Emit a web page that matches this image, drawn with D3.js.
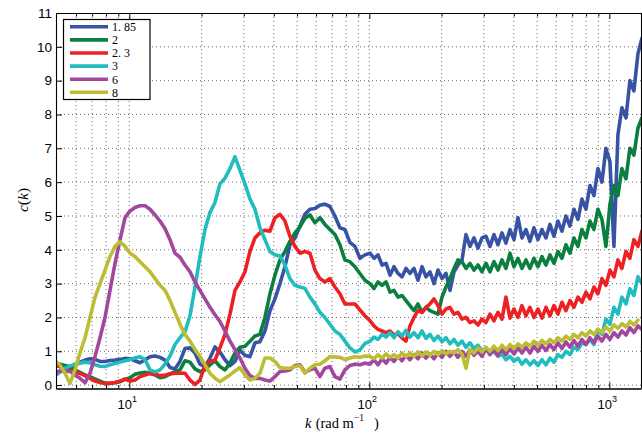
<!DOCTYPE html>
<html><head><meta charset="utf-8">
<script src="https://cdn.jsdelivr.net/npm/d3@7"></script>
<style>body{margin:0;background:#fff} svg{display:block}</style>
</head><body><svg id="c" width="642" height="436"></svg>
<script>
// ---- data ----
const kLow = [4.95,5.14,5.40,5.66,5.94,6.23,6.54,6.86,7.20,7.55,7.92,8.31,8.72,9.15,9.60,10.07,10.56,11.08,11.63,12.20,12.80,13.43,14.09,14.78,15.50,16.26,17.06,17.90,18.78,19.70,20.67,21.68,22.75,23.86,25.04,26.27,27.56,28.91,30.33,31.82,33.38,35.02,36.74,38.55,40.44,42.43,44.51,46.70,48.99,51.40,53.92,56.57,59.35,62.26,65.32,68.53,71.90,75.43,79.13,83.02,87.10,91.38,95.87];
const kHigh = [100.7,104.6,108.7,113.0,117.4,122.0,126.7,131.7,136.8,142.2,147.7,153.5,159.5,165.8,172.2,179.0,186.0,193.3,200.8,208.7,216.8,225.3,234.1,243.3,252.8,262.7,272.9,283.6,294.7,306.2,318.2,330.6,343.6,357.0,371.0,385.5,400.6,416.2,432.5,449.4,467.0,485.2,504.2,523.9,544.4,565.7,587.8,610.8,634.7,659.5,685.3,712.1,740.0,768.9,799.0,830.2,862.7,896.4,931.5,967.9,1006,1045,1086,1128,1173,1218,1266,1316,1367];
const kGrid = kLow.concat(kHigh);

const seriesNames = ["1.85","2","2.3","3","6","8"];
const seriesColors = ["#3953a4","#0b7f3f","#ed2024","#1fbdbd","#a1479d","#bdbd33"];

const cBlue = [0.59,0.55,0.48,0.5,0.58,0.68,0.74,0.78,0.76,0.7,0.7,0.73,0.74,0.76,0.79,0.78,0.72,0.66,0.75,0.84,0.86,0.82,0.74,0.52,0.48,0.7,1.08,1.1,0.95,0.62,0.54,0.8,1.13,0.98,0.75,0.58,0.7,1.04,0.88,0.84,1.25,1.28,1.6,2.2,2.55,3.0,3.5,4.15,4.35,4.7,5.05,5.2,5.22,5.32,5.35,5.28,5.0,4.65,4.6,4.22,4.1,3.75,3.85,
  3.9,3.75,3.85,3.55,3.6,3.25,3.5,3.3,3.2,3.45,3.3,3.45,3.1,3.5,3.2,3.35,3.0,3.4,3.15,3.3,2.8,3.35,3.55,3.7,4.45,4.1,4.35,4.05,4.35,4.4,4.1,4.45,4.15,4.5,4.2,4.6,4.3,4.95,4.35,4.6,4.25,4.65,4.3,4.6,4.35,4.75,4.4,4.85,4.55,5.0,4.7,5.2,4.9,5.5,5.2,5.9,5.6,6.4,6.0,7.0,6.6,4.1,7.4,8.2,7.9,9.0,8.7,9.8,10.25];
const cGreen = [0.64,0.62,0.58,0.54,0.45,0.38,0.3,0.25,0.18,0.12,0.06,0.05,0.07,0.1,0.17,0.22,0.32,0.36,0.38,0.35,0.3,0.22,0.25,0.33,0.4,0.45,0.72,0.68,0.48,0.4,0.45,0.6,0.72,0.55,0.45,0.65,0.95,1.12,1.15,1.3,1.45,1.5,2.0,2.7,3.25,3.7,3.95,4.25,4.5,4.68,4.93,5.03,4.8,4.95,4.75,4.6,4.45,4.15,3.7,3.65,3.5,3.3,3.1,
  3.0,2.85,3.05,2.95,3.05,2.75,2.8,2.6,2.65,2.5,2.35,2.2,2.4,2.15,2.3,2.2,2.15,2.1,2.6,2.9,3.15,3.45,3.7,3.65,3.45,3.6,3.4,3.55,3.35,3.6,3.35,3.65,3.4,3.7,3.45,3.9,3.5,3.75,3.45,3.7,3.45,3.75,3.5,3.8,3.55,3.85,3.6,3.95,3.75,4.15,3.9,4.35,4.1,4.6,4.35,4.85,4.6,5.2,4.9,4.1,5.35,5.9,5.6,6.4,6.1,7.0,6.8,7.6,7.9];
const cRed = [0.6,0.55,0.45,0.42,0.37,0.35,0.28,0.2,0.12,0.08,0.05,0.06,0.08,0.12,0.18,0.12,0.15,0.25,0.3,0.34,0.33,0.28,0.3,0.33,0.35,0.36,0.35,0.15,0.02,0.15,0.6,0.7,0.74,1.1,1.5,2.1,2.8,3.05,3.35,3.95,4.35,4.5,4.58,4.55,4.95,5.05,4.85,4.4,4.1,3.9,3.95,3.9,3.4,3.15,3.05,3.15,2.9,2.7,2.4,2.4,2.4,2.22,2.05,
  1.9,1.75,1.65,1.6,1.55,1.6,1.48,1.52,1.4,1.3,1.75,2.0,2.2,2.15,2.3,2.4,2.55,2.35,2.1,2.25,2.3,2.1,2.15,1.95,2.0,1.85,1.9,1.78,1.95,1.85,2.1,1.9,2.15,1.95,2.6,1.98,2.25,2.0,2.35,2.05,2.3,2.0,2.25,1.98,2.3,2.05,2.35,2.1,2.45,2.2,2.5,2.3,2.6,2.45,2.75,2.55,2.9,2.7,3.15,2.95,3.4,3.2,3.7,3.45,3.95,3.75,4.3,4.1,4.55];
const cCyan = [0.3,0.38,0.5,0.56,0.62,0.65,0.68,0.66,0.6,0.56,0.55,0.6,0.64,0.68,0.72,0.76,0.8,0.84,0.75,0.45,0.39,0.45,0.62,0.86,1.2,1.4,1.58,2.05,2.9,3.8,4.6,5.1,5.4,5.95,6.12,6.4,6.75,6.35,5.95,5.5,5.2,4.65,4.3,3.95,3.85,3.82,3.55,3.15,2.95,2.9,2.86,2.6,2.4,2.15,2.0,1.8,1.6,1.5,1.3,1.1,0.98,1.04,1.23,
  1.3,1.42,1.35,1.5,1.42,1.55,1.4,1.58,1.45,1.62,1.42,1.55,1.4,1.6,1.38,1.5,1.32,1.45,1.28,1.4,1.22,1.35,1.18,1.3,1.12,1.25,1.08,1.18,1.02,1.1,0.95,1.0,0.85,0.92,0.75,0.85,0.7,0.8,0.62,0.75,0.6,0.72,0.58,0.75,0.6,0.8,0.68,0.9,0.82,1.0,0.9,1.12,1.05,1.25,1.2,1.35,1.2,1.65,1.5,1.95,1.8,2.3,2.1,2.6,2.4,2.85,2.65,3.2,3.0];
const cPurple = [0.38,0.42,0.42,0.4,0.3,0.2,0.07,0.35,0.85,1.4,2.0,2.8,3.6,4.3,4.95,5.15,5.25,5.3,5.3,5.2,5.03,4.85,4.62,4.3,3.9,3.78,3.55,3.35,3.05,2.8,2.55,2.3,2.08,1.88,1.6,1.3,1.05,0.8,0.5,0.28,0.2,0.2,0.15,0.12,0.25,0.4,0.42,0.45,0.58,0.6,0.38,0.45,0.5,0.25,0.5,0.55,0.25,0.18,0.45,0.58,0.62,0.6,0.65,
  0.62,0.75,0.6,0.78,0.65,0.82,0.7,0.85,0.72,0.88,0.75,0.9,0.78,0.95,0.8,0.92,0.78,0.95,0.82,1.0,0.85,0.98,0.82,1.0,0.85,1.05,0.88,1.0,0.85,1.08,0.9,1.05,0.88,1.05,0.9,1.08,0.92,1.1,0.95,1.12,0.95,1.15,1.0,1.18,1.02,1.2,1.05,1.25,1.08,1.28,1.12,1.32,1.15,1.35,1.2,1.4,1.25,1.45,1.3,1.5,1.35,1.55,1.42,1.6,1.48,1.7,1.55,1.75,1.65];
const cYellow = [0.69,0.6,0.35,0.05,0.45,0.95,1.4,2.0,2.6,3.0,3.4,3.8,4.1,4.24,4.1,3.9,3.8,3.65,3.5,3.35,3.15,2.95,2.8,2.5,2.15,1.8,1.5,1.3,1.05,0.85,0.6,0.35,0.2,0.1,0.2,0.3,0.42,0.52,0.3,0.15,0.2,0.35,0.8,0.8,0.7,0.52,0.5,0.5,0.55,0.57,0.35,0.5,0.6,0.62,0.72,0.84,0.83,0.82,0.75,0.8,0.84,0.82,0.86,
  0.85,0.78,0.9,0.8,0.92,0.82,0.9,0.8,0.95,0.84,0.95,0.85,0.98,0.86,0.98,0.88,1.0,0.9,1.02,0.92,1.0,0.95,1.05,0.92,0.5,1.05,0.95,1.1,0.98,1.12,1.0,1.15,1.02,1.18,1.05,1.2,1.08,1.22,1.12,1.25,1.15,1.3,1.18,1.32,1.22,1.35,1.25,1.4,1.3,1.45,1.35,1.5,1.4,1.55,1.45,1.6,1.5,1.65,1.55,1.72,1.6,1.78,1.68,1.82,1.72,1.88,1.78,1.92];
const seriesValues = [cBlue,cGreen,cRed,cCyan,cPurple,cYellow];

const xMajorTicks = [10,100,1000];
const xExponents = ["1","2","3"];
const xMinorTicks = [6,7,8,9,20,30,40,50,60,70,80,90,200,300,400,500,600,700,800,900];
const yTicks = [0,1,2,3,4,5,6,7,8,9,10,11];

// ---- layout ----
const plotL = 56, plotR = 641, plotT = 13, plotB = 388.5;
const svg = d3.select("#c");
const x = d3.scaleLog().domain([4.95,1355]).range([plotL,plotR]);
const y = d3.scaleLinear().domain([-0.1,11]).range([plotB,plotT]);

// grid
const grid = svg.append("g").attr("stroke","#444").attr("stroke-width",0.8).attr("stroke-dasharray","1,3");
grid.selectAll("line.gx").data(xMajorTicks.concat(xMinorTicks)).join("line").attr("class","gx")
  .attr("x1",d=>x(d)).attr("x2",d=>x(d)).attr("y1",plotT).attr("y2",plotB);
grid.selectAll("line.gy").data(yTicks.filter(d=>d<11)).join("line").attr("class","gy")
  .attr("x1",plotL).attr("x2",plotR).attr("y1",d=>y(d)).attr("y2",d=>y(d));

// lines
svg.append("clipPath").attr("id","clip").append("rect")
  .attr("x",plotL).attr("y",plotT).attr("width",plotR-plotL).attr("height",plotB-plotT);
const line = d3.line().x(d=>x(d[0])).y(d=>y(d[1]));
const gLines = svg.append("g").attr("clip-path","url(#clip)");
seriesValues.forEach((vals,i)=>{
  gLines.append("path").datum(d3.zip(kGrid, vals))
    .attr("d",line).attr("fill","none").attr("stroke",seriesColors[i])
    .attr("stroke-width",3.6).attr("stroke-linejoin","round").attr("stroke-linecap","round");
});

// axes
function styleAxis(g){ g.select(".domain").attr("stroke","#000").attr("stroke-width",1.1); g.selectAll(".tick line").attr("stroke","#000"); }
svg.append("g").attr("transform",`translate(0,${plotB})`)
  .call(d3.axisBottom(x).tickValues(xMajorTicks).tickSize(-6).tickSizeOuter(0).tickFormat("")).call(styleAxis);
svg.append("g").attr("transform",`translate(0,${plotB})`)
  .call(d3.axisBottom(x).tickValues(xMinorTicks).tickSize(-3.5).tickSizeOuter(0).tickFormat("")).call(styleAxis);
svg.append("g").attr("transform",`translate(0,${plotT})`)
  .call(d3.axisTop(x).tickValues(xMajorTicks).tickSize(-6).tickSizeOuter(0).tickFormat("")).call(styleAxis);
svg.append("g").attr("transform",`translate(0,${plotT})`)
  .call(d3.axisTop(x).tickValues(xMinorTicks).tickSize(-3.5).tickSizeOuter(0).tickFormat("")).call(styleAxis);
const gy = svg.append("g").attr("transform",`translate(${plotL},0)`)
  .call(d3.axisLeft(y).tickValues(yTicks).tickSize(-6).tickSizeOuter(0).tickPadding(4).tickFormat(d3.format("d")))
  .call(styleAxis);
gy.attr("font-family","'Liberation Sans', Arial, sans-serif").attr("font-size",13.5);
gy.selectAll(".tick text").attr("fill","#000");
svg.append("line").attr("x1",plotR+0.5).attr("x2",plotR+0.5).attr("y1",plotT).attr("y2",plotB).attr("stroke","#000").attr("stroke-width",1.1);

// x tick labels 10^n
const xl = svg.append("g").attr("font-family","'Liberation Sans', Arial, sans-serif").attr("fill","#000");
xMajorTicks.forEach((v,i)=>{
  const t = xl.append("text").attr("x",x(v)-2).attr("y",408.5).attr("text-anchor","middle").attr("font-size",13);
  t.append("tspan").text("10");
  t.append("tspan").attr("dy",-7).attr("font-size",9).text(xExponents[i]);
});

// axis titles
const xt = svg.append("text").attr("y",428).attr("font-family","'Liberation Serif', 'DejaVu Serif', serif").attr("font-size",14.5).attr("fill","#000");
xt.append("tspan").attr("x",305).attr("font-style","italic").text("k");
xt.append("tspan").attr("x",312).text(" (rad m");
xt.append("tspan").attr("dy",-7).attr("font-size",9.5).text("−1");
xt.append("tspan").attr("x",374).attr("dy",7).text(")");

svg.append("text").attr("transform","translate(28,200) rotate(-90)").attr("text-anchor","middle")
  .attr("font-family","'Liberation Serif', 'DejaVu Serif', serif").attr("font-size",15.5).attr("fill","#000")
  .html('<tspan font-style="italic">c</tspan>(<tspan font-style="italic">k</tspan>)');

// legend
const lg = svg.append("g");
lg.append("rect").attr("x",63.5).attr("y",19.5).attr("width",86.5).attr("height",80)
  .attr("fill","#fff").attr("stroke","#000").attr("stroke-width",1.2);
seriesNames.forEach((name,i)=>{
  const yy = 26.8 + i*13.1;
  lg.append("line").attr("x1",70).attr("x2",108).attr("y1",yy).attr("y2",yy)
    .attr("stroke",seriesColors[i]).attr("stroke-width",3.6);
  const t = lg.append("text").attr("x",112).attr("y",yy+4.3)
    .attr("font-family","'Liberation Serif', 'DejaVu Serif', serif").attr("font-size",12).attr("fill","#000");
  const parts = name.split(".");
  if (parts.length===2){ t.append("tspan").text(parts[0]+"."); t.append("tspan").attr("dx",3).text(parts[1]); }
  else t.text(name);
});
</script></body></html>
